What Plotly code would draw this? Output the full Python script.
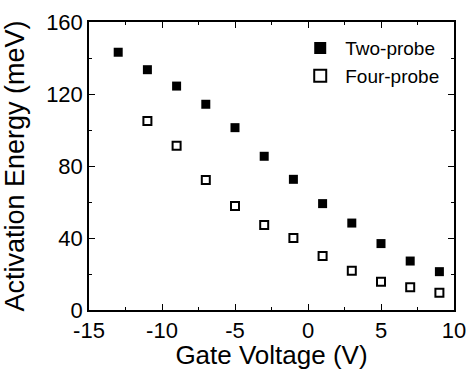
import plotly.graph_objects as go

gate_voltage = [-13, -11, -9, -7, -5, -3, -1, 1, 3, 5, 7, 9]
two_probe = [143.2, 133.5, 124.4, 114.3, 101.3, 85.4, 72.6, 59.1, 48.3, 36.9, 27.2, 21.3]
gate_voltage_four = [-11, -9, -7, -5, -3, -1, 1, 3, 5, 7, 9]
four_probe = [105.0, 91.3, 72.2, 57.8, 47.2, 40.0, 30.0, 21.8, 15.7, 12.6, 9.6]

x_ticks = [-15, -10, -5, 0, 5, 10]
y_ticks = [0, 40, 80, 120, 160]

font_family = "Liberation Sans, Arial, sans-serif"

fig = go.Figure()
fig.add_trace(go.Scatter(
    x=gate_voltage, y=two_probe, mode="markers", name="Two-probe",
    marker=dict(symbol="square", size=9, color="black", line=dict(width=0)),
))
fig.add_trace(go.Scatter(
    x=gate_voltage_four, y=four_probe, mode="markers", name="Four-probe",
    marker=dict(symbol="square-open", size=8, color="black", line=dict(width=2)),
))

axis_common = dict(
    showline=True, linecolor="black", linewidth=1.5, mirror="ticks",
    ticks="inside", ticklen=6, tickwidth=1.2, tickcolor="black",
    showgrid=False, zeroline=False, automargin=False,
    tickfont=dict(family=font_family, size=22, color="black"),
)

fig.update_xaxes(
    range=[-15, 10], tickvals=x_ticks, ticktext=[str(v) for v in x_ticks],
    minor=dict(ticks="inside", ticklen=3, tickwidth=1, tickcolor="black", dtick=2.5, tick0=0),
    title=dict(text="Gate Voltage (V)", font=dict(family=font_family, size=26, color="black")),
    **axis_common,
)
fig.update_yaxes(
    range=[0, 160], tickvals=y_ticks, ticktext=[str(v) for v in y_ticks],
    minor=dict(ticks="inside", ticklen=3, tickwidth=1, tickcolor="black", dtick=20, tick0=0),
    title=dict(text="Activation Energy (meV)", font=dict(family=font_family, size=27, color="black")),
    **axis_common,
)

fig.update_layout(
    width=469, height=370,
    margin=dict(l=89, r=15, t=22, b=60),
    paper_bgcolor="white", plot_bgcolor="white",
    showlegend=True,
    legend=dict(
        x=0.565, y=0.975, xanchor="left", yanchor="top",
        bgcolor="rgba(0,0,0,0)", borderwidth=0,
        font=dict(family=font_family, size=19, color="black"),
        itemsizing="constant", itemwidth=40, tracegroupgap=0,
    ),
)

# remove the page's default body margin so the figure sits at the window origin
fig.write_html(
    "out.html",
    config={"displayModeBar": False},
    post_script="document.body.style.margin='0';document.body.style.overflow='hidden';",
)
